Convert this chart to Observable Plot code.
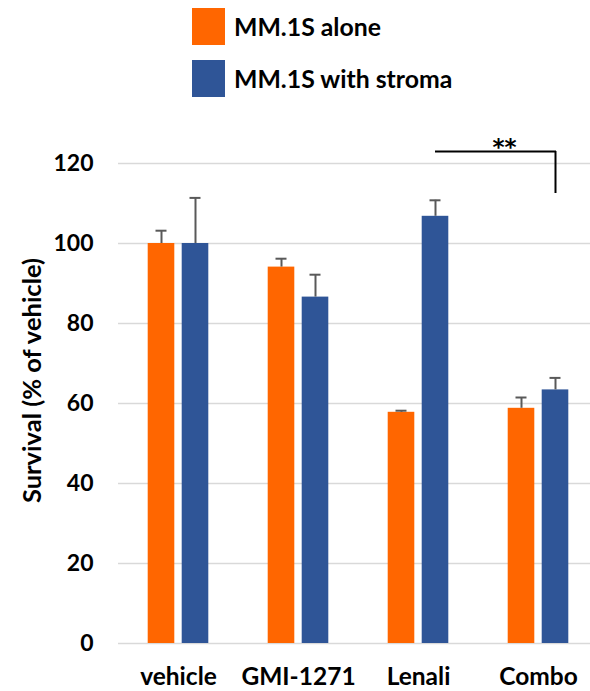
<!DOCTYPE html>
<html>
<head>
<meta charset="utf-8">
<script src="https://cdn.jsdelivr.net/npm/d3@7"></script>
<script src="https://cdn.jsdelivr.net/npm/@observablehq/plot@0.6"></script>
<style>
  html, body { margin: 0; padding: 0; background: #fff; }
  #wrap { position: relative; width: 590px; height: 691px; overflow: hidden; font-family: Lato, "Open Sans", sans-serif; }
  .legend-item { position: absolute; left: 192px; display: flex; align-items: center; }
  .swatch { width: 33px; height: 37px; margin-right: 9px; }
  .legend-item span { font-weight: bold; font-size: 24.8px; color: #000; }
  #chart { position: absolute; left: 0; top: 100px; }
  #chart svg { overflow: visible; }
  #chart g[aria-label^="x-axis"] text { font-size: 24.5px; }
  #chart g[aria-label^="y-axis"] text { font-size: 23px; }
</style>
</head>
<body>
<div id="wrap">
  <div id="legend"></div>
  <div id="chart"></div>
</div>
<script>
// Treatments along the x axis and the two culture conditions
const categories = ["vehicle", "GMI-1271", "Lenali", "Combo"];
const series = ["MM.1S alone", "MM.1S with stroma"];
const colors = ["#FF6600", "#2F5597"];

// Survival (% of vehicle), mean and upper error per treatment
const aloneMean = [100, 94.1, 57.8, 58.8];
const aloneErr = [3.2, 2.1, 0.4, 2.7];
const stromaMean = [100, 86.6, 106.8, 63.4];
const stromaErr = [11.4, 5.6, 4.0, 3.0];

const yTicks = [0, 20, 40, 60, 80, 100, 120];
const yTitle = "Survival (% of vehicle)";

// Significance bracket between the stroma bars of Lenali and Combo
const sigFrom = "Lenali";
const sigTo = "Combo";
const sigLevel = 123;
const sigDrop = 112.5;
const sigLabel = "**";

const rows = [];
categories.forEach((c, i) => {
  rows.push({category: c, series: series[0], mean: aloneMean[i], top: aloneMean[i] + aloneErr[i]});
  rows.push({category: c, series: series[1], mean: stromaMean[i], top: stromaMean[i] + stromaErr[i]});
});
const alone = rows.filter(d => d.series === series[0]);
const stroma = rows.filter(d => d.series === series[1]);

// Legend
const legend = document.getElementById("legend");
series.forEach((s, i) => {
  const item = document.createElement("div");
  item.className = "legend-item";
  item.style.top = (8 + i * 52) + "px";
  item.innerHTML = `<div class="swatch" style="background:${colors[i]}"></div><span>${s}</span>`;
  legend.appendChild(item);
});

// Band geometry: each treatment gets a 120px band; bars sit either side of its centre
const band = 120, half = band / 2;
const barW = 26.6, gap = 3.7, off = gap + barW / 2;
const capW = 11;
const inner = (side) => side < 0
  ? {insetLeft: half - gap - barW, insetRight: half + gap}
  : {insetLeft: half + gap, insetRight: half - gap - barW};
const cap = (side) => ({insetLeft: half + side * off - capW / 2, insetRight: half - side * off - capW / 2});

const chart = Plot.plot({
  width: 590,
  height: 591,
  marginTop: 63,
  marginBottom: 48,
  marginLeft: 118,
  marginRight: 0,
  style: {fontFamily: "Lato, 'Open Sans', sans-serif", fontWeight: "bold", color: "#000", background: "transparent"},
  x: {domain: categories, range: [118, 118 + band * categories.length], padding: 0, tickSize: 0, tickPadding: 24.5, label: null},
  y: {domain: [0, 120], ticks: yTicks, tickSize: 0, tickPadding: 25, label: null},
  marks: [
    Plot.ruleY(yTicks, {stroke: "#d9d9d9", strokeWidth: 1.5}),
    Plot.barY(alone, {x: "category", y: "mean", fill: colors[0], ...inner(-1)}),
    Plot.barY(stroma, {x: "category", y: "mean", fill: colors[1], ...inner(1)}),
    Plot.ruleX(alone, {x: "category", y1: "mean", y2: "top", dx: -off, stroke: "#595959", strokeWidth: 2}),
    Plot.ruleX(stroma, {x: "category", y1: "mean", y2: "top", dx: off, stroke: "#595959", strokeWidth: 2}),
    Plot.tickY(alone, {x: "category", y: "top", ...cap(-1), stroke: "#595959", strokeWidth: 2}),
    Plot.tickY(stroma, {x: "category", y: "top", ...cap(1), stroke: "#595959", strokeWidth: 2}),
    // significance bracket
    Plot.tickY([{c: sigFrom, y: sigLevel}], {x: "c", y: "y", insetLeft: half + off, insetRight: 0, stroke: "#000", strokeWidth: 2}),
    Plot.tickY([{c: sigTo, y: sigLevel}], {x: "c", y: "y", insetLeft: 0, insetRight: half - off - 1, stroke: "#000", strokeWidth: 2}),
    Plot.ruleX([{c: sigTo, y1: sigDrop, y2: sigLevel}], {x: "c", y1: "y1", y2: "y2", dx: off, stroke: "#000", strokeWidth: 2}),
    Plot.text([{c: sigTo, y: sigLevel, t: sigLabel}], {x: "c", y: "y", text: "t", dx: -34, dy: -4, fontSize: 23, fontFamily: "'DejaVu Sans', sans-serif", fontWeight: "bold", fill: "#000"}),
    // y axis title
    Plot.text([{y: 65.75, t: yTitle}], {y: "y", text: "t", frameAnchor: "left", textAnchor: "middle", rotate: -90, dx: -86, fontSize: 25.5, fontWeight: "bold", fill: "#000"})
  ]
});
document.getElementById("chart").appendChild(chart);
</script>
</body>
</html>
